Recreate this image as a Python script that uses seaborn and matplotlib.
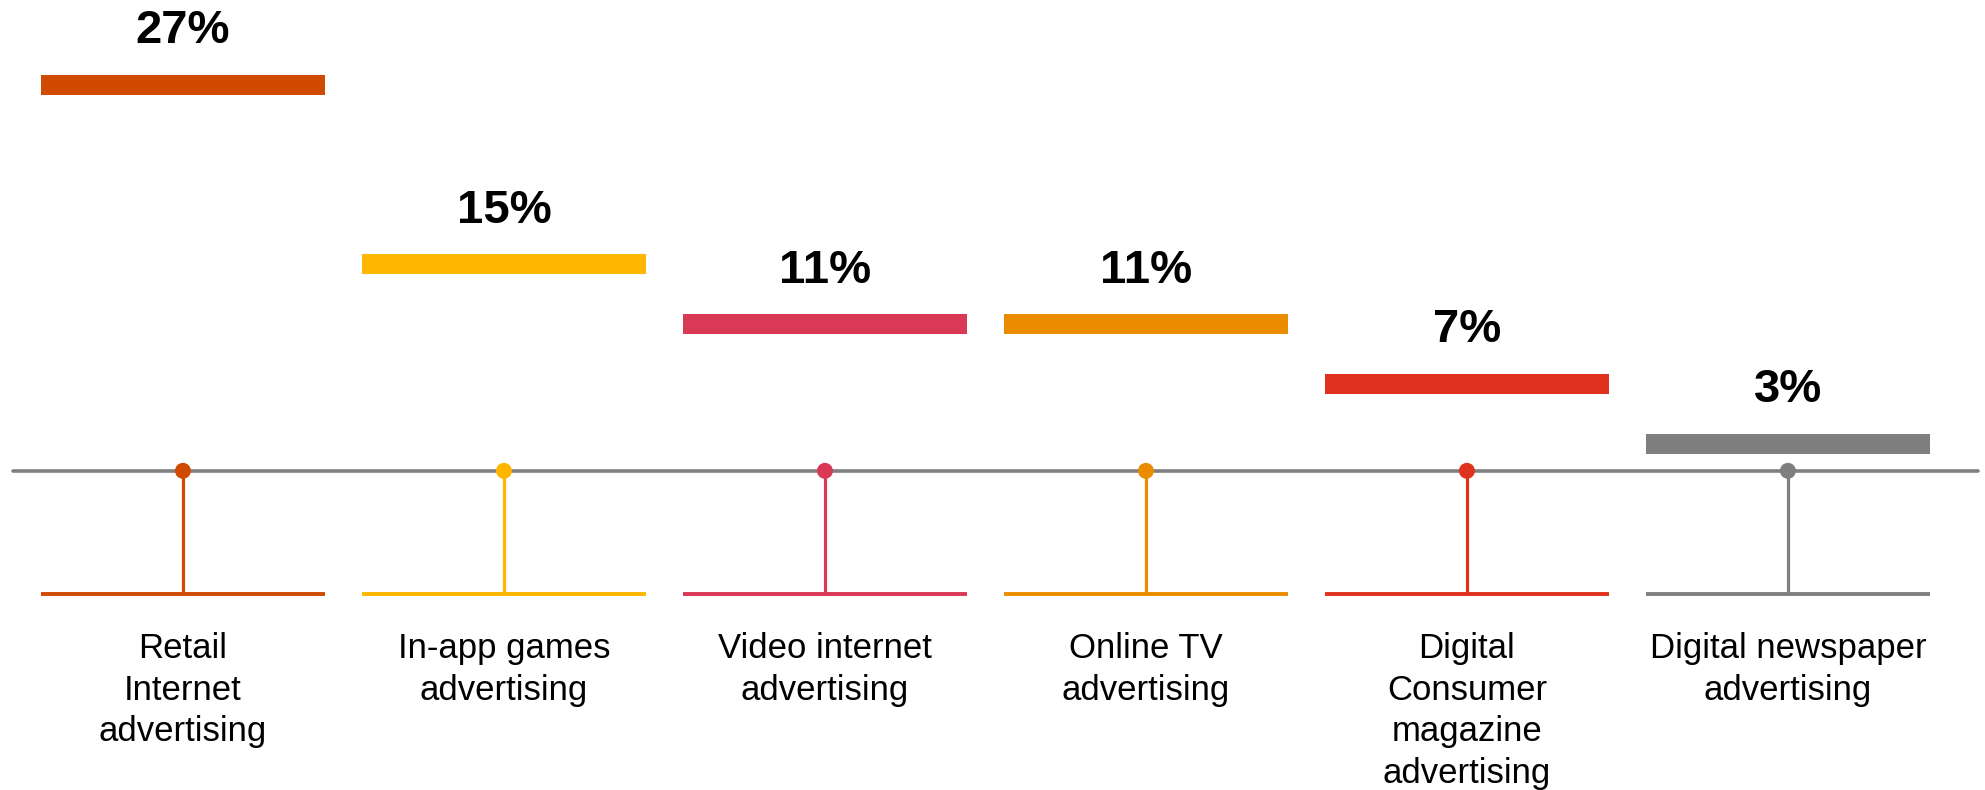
import matplotlib
matplotlib.use("Agg")
import matplotlib.pyplot as plt
import numpy as np
import pandas as pd
import seaborn as sns

# Growth by digital advertising segment
categories = [
    "Retail\nInternet\nadvertising",
    "In-app games\nadvertising",
    "Video internet\nadvertising",
    "Online TV\nadvertising",
    "Digital\nConsumer\nmagazine\nadvertising",
    "Digital newspaper\nadvertising",
]
growth = [27, 15, 11, 11, 7, 3]
value_labels = ["27%", "15%", "11%", "11%", "7%", "3%"]
colors = ["#D04A02", "#FFB600", "#D93954", "#EB8C00", "#E0301E", "#7F7F7F"]

df = pd.DataFrame({"category": categories, "growth": growth})
df["pos"] = np.arange(len(df))

sns.set_theme(style="white")
plt.rcParams["font.family"] = ["Liberation Sans", "DejaVu Sans"]

fig = plt.figure(figsize=(19.85, 7.9), dpi=100)
ax = fig.add_axes([0, 0, 1, 1])
ax.set_axis_off()

# layout of the timeline (axes fractions) and value scale
BASELINE_FRAC = 0.404
BRACKET_FRAC = 0.248
LABEL_TOP_FRAC = 0.200
base_level = 1.2
y_span = 52.8
y_lo = base_level - BASELINE_FRAC * y_span
ax.set_ylim(y_lo, y_lo + y_span)
ax.set_xlim(-0.570, 5.614)
half = 0.4425

xt = ax.get_xaxis_transform()

# grey timeline
ax.axhline(base_level, xmin=0.0065, xmax=0.9965, color="#808080", lw=2.6, zorder=1)

# stems and bottom brackets
ax.vlines(df["pos"], BRACKET_FRAC, BASELINE_FRAC, transform=xt,
          colors=colors, lw=2.3, zorder=2)
ax.hlines([BRACKET_FRAC] * len(df), df["pos"] - half, df["pos"] + half,
          transform=xt, colors=colors, lw=2.8, capstyle="butt", zorder=2)

# dots on the timeline
sns.scatterplot(data=df, x="pos", y=[base_level] * len(df), hue="category",
                palette=colors, s=132, linewidth=0, legend=False, ax=ax, zorder=3)

# value bars
bars = ax.hlines(df["growth"], df["pos"] - half, df["pos"] + half,
                 colors=colors, lw=14.4, zorder=2)
bars.set_capstyle("butt")

for p, v, lab in zip(df["pos"], df["growth"], value_labels):
    ax.annotate(lab, (p, v), xytext=(0, 30), textcoords="offset points",
                ha="center", va="baseline", fontsize=34, fontweight="bold",
                color="black")

for p, cat in zip(df["pos"], df["category"]):
    ax.text(p, LABEL_TOP_FRAC, cat, transform=xt, ha="center", va="top",
            fontsize=25, linespacing=1.33, color="black")

ax.set_xlabel("")
ax.set_ylabel("")
fig.savefig("out.png", dpi=100)
